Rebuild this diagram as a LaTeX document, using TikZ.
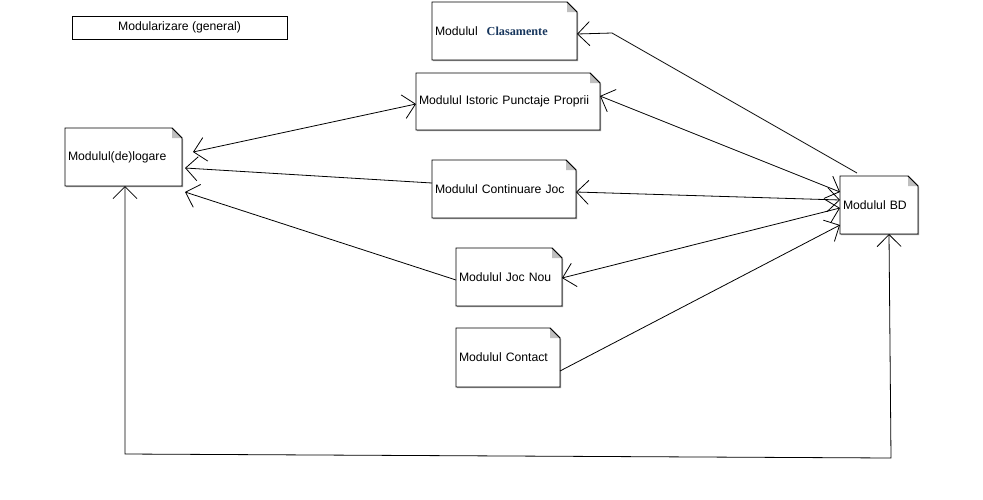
\documentclass[tikz,border=0pt]{standalone}
\usepackage{fontspec}
\setmainfont{Liberation Sans}
\newfontfamily\clasfont{Liberation Serif}
\usetikzlibrary{arrows.meta, backgrounds}

\begin{document}
\begin{tikzpicture}[x=1pt, y=-1pt,
        every node/.style={font=\fontsize{12.2pt}{14pt}\selectfont, outer sep=0pt},
        every edge/.style={draw=black, line width=.8pt},
        >={Straight Barb[length=12pt,width=24pt]},
        modul/.style={anchor=north west, inner xsep=3pt, inner ysep=0pt,
            minimum height=58pt, align=left, text width=#1},
        titlu/.style={draw=black, line width=.8pt, minimum width=215pt,
            minimum height=23pt, inner sep=0pt}]

        \newcommand\modullinewidth{.8pt}
        \definecolor{clasblue}{RGB}{23, 54, 93}

        \useasboundingbox (0,0) rectangle (983,499);

        \node[titlu] (general) at (179.5,27.5) {Modularizare (general)};

        \node[modul=139pt] (clas) at (432,2) {Modulul\hspace{9pt}{\clasfont\bfseries\color{clasblue}Clasamente}};
        \node[modul=178pt, minimum height=57pt] (istoric) at (416,73) {Modulul Istoric Punctaje Proprii};
        \node[modul=111pt] (logare) at (65,128) {Modulul(de)logare};
        \node[modul=138pt] (contin) at (432,160) {Modulul Continuare Joc};
        \node[modul=100pt] (jocnou) at (456,248) {Modulul Joc Nou};
        \node[modul=98pt, minimum height=59pt] (contact) at (456,328) {Modulul Contact};
        \node[modul=72pt] (bd) at (840,176) {Modulul BD};

        \coordinate (knick) at (612,33);
        \coordinate (jos1) at (125,454);
        \coordinate (jos2) at (891,458);

        % note shapes with folded corner
        \begin{scope}[on background layer]
            \foreach \m in {clas,istoric,logare,contin,jocnou,contact,bd}{
                \fill[black!40] ([shift={(1pt,-1pt)}]\m.north west) -- ([shift={(-9pt,-1pt)}]\m.north east)
                    -- ([shift={(1pt,-11pt)}]\m.north east) -- ([shift={(1pt,-1pt)}]\m.south east)
                    -- ([shift={(1pt,-1pt)}]\m.south west) -- cycle;
                \filldraw[fill=white, draw=black, line width=\modullinewidth] (\m.north west)
                    -- ([xshift=-10pt]\m.north east) -- ([yshift=-10pt]\m.north east)
                    -- (\m.south east) -- (\m.south west) -- cycle;
                \fill[black!25] ([xshift=-10pt]\m.north east) -- ([yshift=-10pt]\m.north east)
                    -- ([shift={(-10pt,-10pt)}]\m.north east) -- cycle;
                \draw[line width=\modullinewidth] ([xshift=-10pt]\m.north east) -- ([yshift=-10pt]\m.north east);
            }
        \end{scope}

        \path[<->] ([xshift=11pt,yshift=5pt]logare.east) edge [] ([yshift=-2.5pt]istoric.west);
        \path[->] ([yshift=6pt]contin.west) edge [] ([xshift=3pt,yshift=-11pt]logare.east);
        \path[->] ([yshift=-3pt]jocnou.west) edge [] ([xshift=3pt,yshift=-35pt]logare.east);

        \path[<->] ([yshift=5.5pt]istoric.east) edge [] ([yshift=13pt]bd.west);
        \path[<->] ([yshift=-3pt]contin.east) edge [] ([yshift=5pt]bd.west);
        \path[<->] ([yshift=-1pt]jocnou.east) edge [] ([yshift=-3pt]bd.west);
        \path[->] ([yshift=-13.5pt]contact.east) edge [] ([yshift=-20pt]bd.west);

        \draw[->, line width=\modullinewidth] ([xshift=-22pt,yshift=3pt]bd.north) -- (knick) -- ([yshift=-3pt]clas.east);
        \draw[<->, line width=\modullinewidth] ([xshift=1.5pt]logare.south) -- (jos1) -- (jos2) -- ([xshift=10pt]bd.south);

    \end{tikzpicture}
\end{document}
